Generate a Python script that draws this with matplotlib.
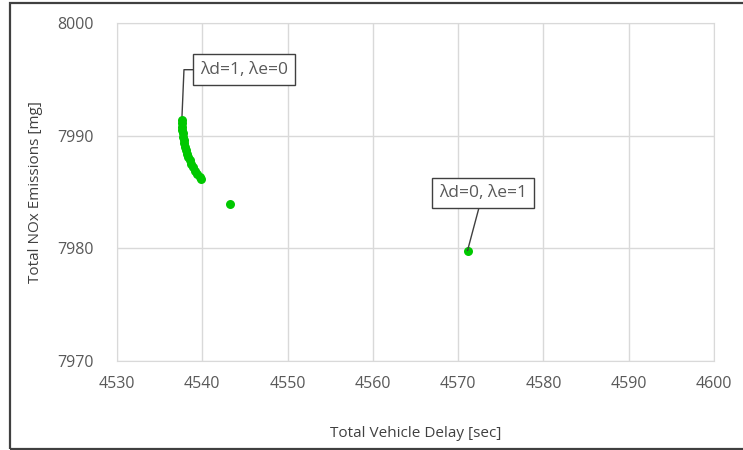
import numpy as np
import matplotlib.pyplot as plt
from matplotlib.patches import Rectangle

# Pareto front: total delay vs total NOx for the weight sweep
delay = [4537.6, 4537.6, 4537.6, 4537.65, 4537.7, 4537.75, 4537.8, 4537.9,
         4538.0, 4538.1, 4538.2, 4538.35, 4538.5, 4538.7, 4538.9, 4539.1,
         4539.4, 4539.7, 4539.9, 4543.3, 4571.1]
nox = [7991.4, 7991.1, 7990.8, 7990.5, 7990.2, 7989.9, 7989.6, 7989.3,
       7989.0, 7988.7, 7988.4, 7988.1, 7987.8, 7987.5, 7987.2, 7986.9,
       7986.6, 7986.3, 7986.15, 7983.9, 7979.8]

xticks = [4530, 4540, 4550, 4560, 4570, 4580, 4590, 4600]
yticks = [7970, 7980, 7990, 8000]

GREEN = "#00c800"
GRID = "#d9d9d9"
TXT = "#595959"

plt.rcParams["font.family"] = ["Open Sans", "DejaVu Sans"]

fig = plt.figure(figsize=(7.43, 4.5), dpi=100)
ax = fig.add_axes([0.1575, 0.198, 0.8035, 0.751])

# chart frame
fig.patches.append(Rectangle((9.5 / 743, 1 / 450), 740 / 743, 446 / 450,
                             transform=fig.transFigure, fill=False,
                             edgecolor="#404040", linewidth=1.6))

ax.scatter(delay, nox, s=42, color=GREEN, zorder=3, linewidths=0)

ax.set_xlim(4530, 4600)
ax.set_ylim(7970, 8000)
ax.set_xticks(xticks)
ax.set_yticks(yticks)
ax.grid(True, color=GRID, linewidth=1)
ax.set_axisbelow(True)
for s in ax.spines.values():
    s.set_color(GRID)
ax.tick_params(length=0, colors=TXT, labelsize=11.5)
ax.tick_params(axis="x", pad=11)
ax.tick_params(axis="y", pad=17)

ax.set_xlabel("Total Vehicle Delay [sec]", color="#404040", fontsize=11, labelpad=24)
ax.set_ylabel("Total NOx Emissions [mg]", color="#404040", fontsize=11, labelpad=10)

box = dict(boxstyle="square,pad=0.42", facecolor="white", edgecolor="#404040", linewidth=1)

# leader for the delay-only solution: short horizontal run then down to the point
ax.plot([4539.5, 4537.85, 4537.6], [7995.85, 7995.85, 7991.4],
        color="#404040", linewidth=1, zorder=2)
ax.text(4544.9, 7995.85, "λd=1, λe=0", ha="center", va="center",
        fontsize=12.5, color=TXT, bbox=box, zorder=4)

ax.annotate("λd=0, λe=1", xy=(delay[-1], nox[-1]), xytext=(4572.9, 7984.9),
            ha="center", va="center", fontsize=12.5, color=TXT, bbox=box,
            arrowprops=dict(arrowstyle="-", color="#404040", linewidth=1,
                            shrinkA=0, shrinkB=0), zorder=4)

fig.savefig("out.png", dpi=100)
